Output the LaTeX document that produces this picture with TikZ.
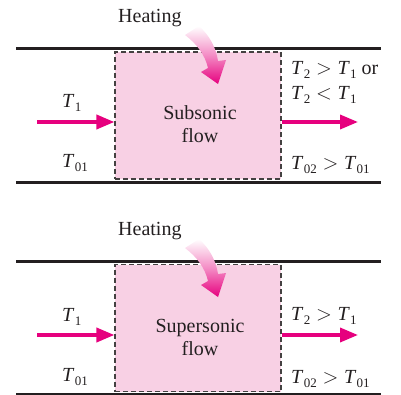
\documentclass[tikz,border=0pt]{standalone}
\usepackage{fontspec}
\setmainfont{Liberation Serif}
\usetikzlibrary{arrows.meta}
\definecolor{boxpink}{RGB}{248,208,228}
\definecolor{mag}{RGB}{230,0,126}
\definecolor{ink}{RGB}{35,31,32}
\newcommand\Tv[1]{\textit{T}\kern0.3pt\raisebox{-4pt}{\fontsize{13}{13}\selectfont #1}}
\newcommand\gtr{\ensuremath{{}>{}}}
\newcommand\lss{\ensuremath{{}<{}}}
\newcommand\heatarrow{%
  \shade[heat] (185,35) -- (199,26) .. controls (210,36) and (216,48) .. (218,61)
    -- (226,60) -- (218,84) -- (201,72) -- (208,68)
    .. controls (205,55) and (197,44) .. cycle;}
\begin{document}
\begin{tikzpicture}[x=1pt,y=-1pt, font=\fontsize{20}{23}\selectfont,
  wall/.style={line width=2.4pt, draw=ink},
  flowbox/.style={draw=ink!85, dash pattern=on 5pt off 3pt, line width=1.1pt, fill=boxpink,
    minimum width=166pt, minimum height=127pt, inner sep=0pt},
  boxtext/.style={align=center, text=ink, inner sep=0pt},
  flowarrow/.style={draw=mag, line width=3.6pt, -{Triangle[length=18pt,width=14pt,fill=mag]}},
  lbl/.style={anchor=base west, inner sep=0pt, text=ink},
  heat/.style={top color=white, bottom color=mag, middle color=mag!45}]
\useasboundingbox (0,0) rectangle (401,395);
% ---------- panel 1 ----------
\begin{scope}
  \coordinate (wa1) at (16,48.5);  \coordinate (wb1) at (381,48.5);
  \coordinate (wc1) at (16,182.5); \coordinate (wd1) at (381,182.5);
  \node[flowbox] (box1) at (198,115.5) {};
  \draw[wall] (wa1) -- (wb1);
  \draw[wall] (wc1) -- (wd1);
  \node[boxtext] (txt1) at (200,124) {Subsonic\\flow};
  \coordinate (in1) at (37,122);
  \coordinate (out1) at (358,122);
  \draw[flowarrow] (in1) -- (in1 -| box1.west);
  \draw[flowarrow] (out1 -| box1.east) -- (out1);
  \node[lbl] (heat1) at (118,23) {Heating};
  \node[lbl] (ta1) at (62,108) {\Tv{1}};
  \node[lbl] (tb1) at (62,168) {\Tv{01}};
  \node[lbl] (tc1) at (291,75) {\Tv{2}\gtr\Tv{1} or};
  \node[lbl] (td1) at (291,100) {\Tv{2}\lss\Tv{1}};
  \node[lbl] (te1) at (291,170) {\Tv{02}\gtr\Tv{01}};
  \heatarrow
\end{scope}
% ---------- panel 2 ----------
\begin{scope}[shift={(0,213)}]
  \coordinate (wa2) at (16,48.5);  \coordinate (wb2) at (381,48.5);
  \coordinate (wc2) at (16,181.5); \coordinate (wd2) at (381,181.5);
  \node[flowbox] (box2) at (198,115) {};
  \draw[wall] (wa2) -- (wb2);
  \draw[wall] (wc2) -- (wd2);
  \node[boxtext] (txt2) at (200,124) {Supersonic\\flow};
  \coordinate (in2) at (37,122);
  \coordinate (out2) at (358,122);
  \draw[flowarrow] (in2) -- (in2 -| box2.west);
  \draw[flowarrow] (out2 -| box2.east) -- (out2);
  \node[lbl] (heat2) at (118,23) {Heating};
  \node[lbl] (ta2) at (62,108) {\Tv{1}};
  \node[lbl] (tb2) at (62,168) {\Tv{01}};
  \node[lbl] (tc2) at (291,107) {\Tv{2}\gtr\Tv{1}};
  \node[lbl] (te2) at (291,170) {\Tv{02}\gtr\Tv{01}};
  \heatarrow
\end{scope}
\end{tikzpicture}
\end{document}
